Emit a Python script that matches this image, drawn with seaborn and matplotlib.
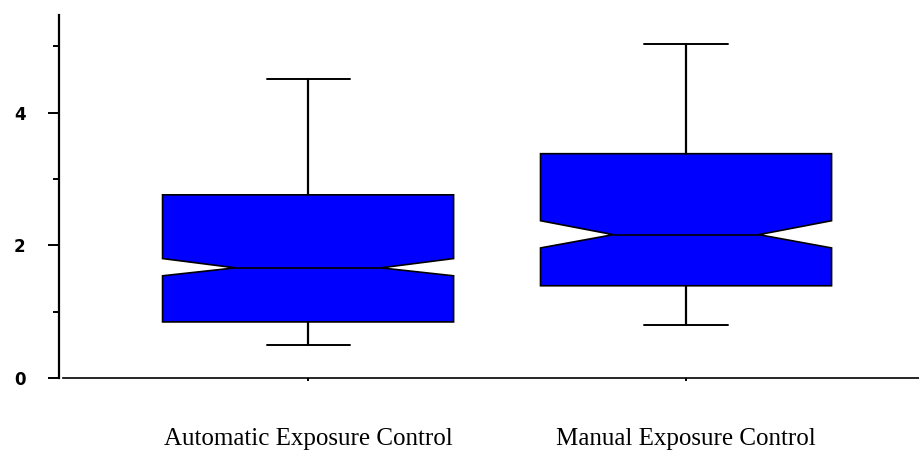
import matplotlib
matplotlib.use("Agg")
import matplotlib.pyplot as plt
from matplotlib.ticker import MultipleLocator
import seaborn as sns

# Summary statistics for each exposure-control group
groups = ["Automatic Exposure Control", "Manual Exposure Control"]
whisker_low = [0.50, 0.80]
q1 = [0.845, 1.39]
median = [1.66, 2.16]
q3 = [2.76, 3.38]
whisker_high = [4.51, 5.04]
notch_low = [1.54, 1.96]
notch_high = [1.80, 2.37]
y_ticks = [0, 2, 4]

sns.set_theme(style="ticks")
plt.rcParams["font.family"] = ["DejaVu Sans"]

fig = plt.figure(figsize=(9.2, 4.57), dpi=100)
ax = fig.add_axes([59 / 920, 1 - 378 / 457, 1 - 59 / 920, (378 - 15) / 457])

stats = [
    dict(label=g, whislo=wl, q1=a, med=m, q3=b, whishi=wh, cilo=cl, cihi=ch, fliers=[])
    for g, wl, a, m, b, wh, cl, ch in zip(
        groups, whisker_low, q1, median, q3, whisker_high, notch_low, notch_high
    )
]

ax.bxp(
    stats,
    positions=[0, 1],
    widths=0.77,
    capwidths=0.22,
    shownotches=True,
    showfliers=False,
    patch_artist=True,
    boxprops=dict(facecolor="#0000ff", edgecolor="black", linewidth=1.2),
    medianprops=dict(color="black", linewidth=1.2),
    whiskerprops=dict(color="black", linewidth=1.6),
    capprops=dict(color="black", linewidth=1.4),
)

ax.set_xlim(-0.659, 1.619)
ax.set_ylim(0, 5.47)

sns.despine(ax=ax)
ax.spines["left"].set_linewidth(1.6)
ax.spines["bottom"].set_linewidth(1.2)
ax.spines["left"].set_color("black")
ax.spines["bottom"].set_color("black")
ax.spines["bottom"].set_bounds(-0.648, 1.619)

ax.set_yticks(y_ticks)
ax.set_yticklabels([str(t) for t in y_ticks], fontsize=12, fontweight="bold", color="black")
ax.yaxis.set_minor_locator(MultipleLocator(1))
ax.tick_params(axis="y", which="major", length=8, width=1.4, color="black", pad=16)
ax.tick_params(axis="y", which="minor", length=4, width=1.4, color="black", left=True)

ax.set_xticks([0, 1])
ax.set_xticklabels(groups, family=["Liberation Serif"], fontsize=18,
                   fontweight="normal", color="black")
ax.tick_params(axis="x", length=2, width=1.4, color="black", pad=34)

ax.set_xlabel("")
ax.set_ylabel("")
ax.grid(False)

fig.savefig("out.png", dpi=100)
